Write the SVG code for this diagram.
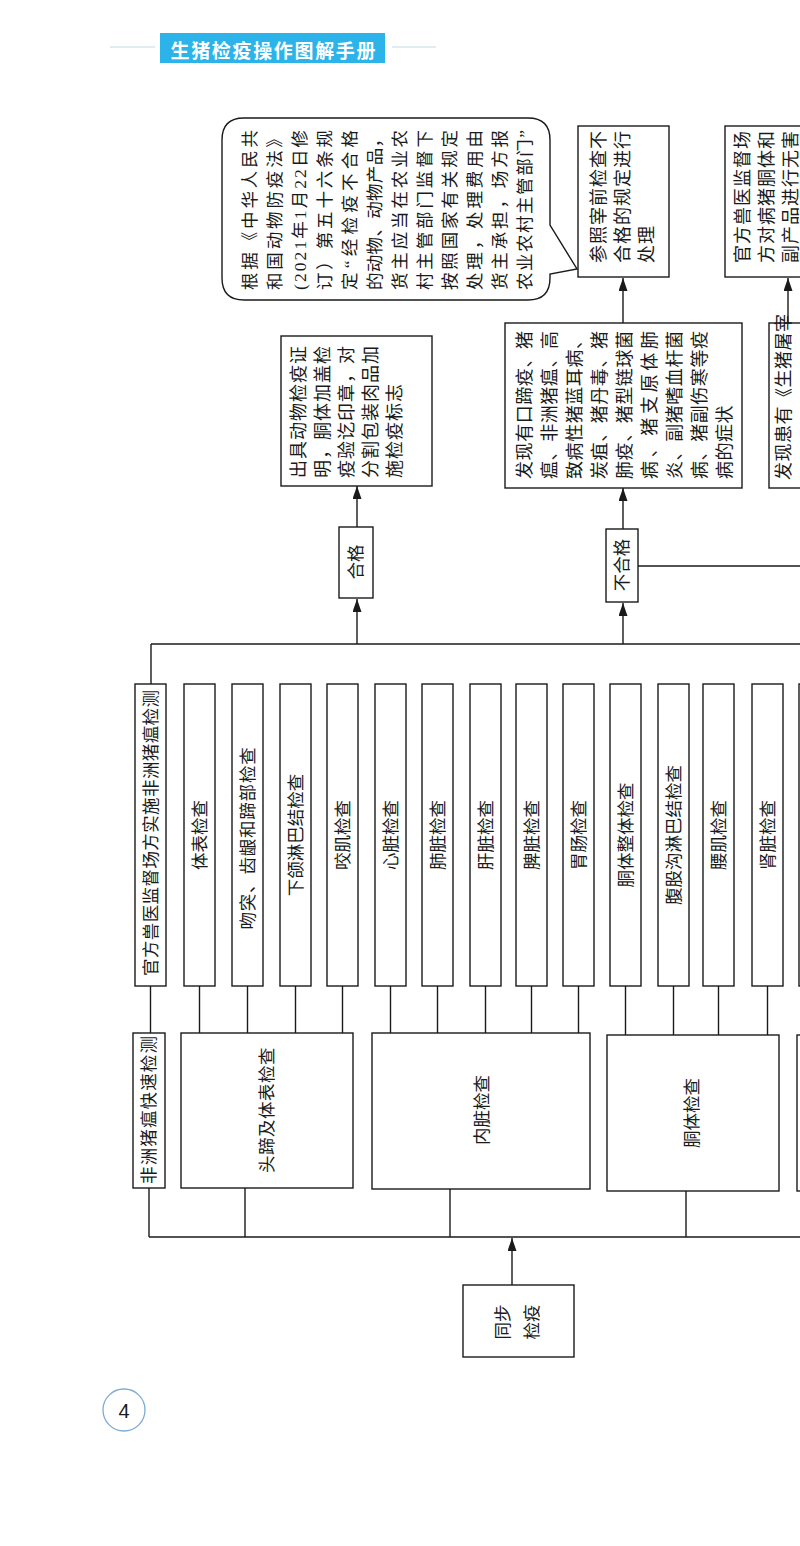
<svg xmlns="http://www.w3.org/2000/svg" width="800" height="1546" viewBox="0 0 800 1546">
<defs>
<style>
.bx{fill:#fff;stroke:#1a1a1a;stroke-width:1.4}
.ln{fill:none;stroke:#1a1a1a;stroke-width:1.4}
.v{font-family:"Liberation Serif","Noto Sans CJK SC",serif;font-size:17.5px;fill:#1a1a1a;dominant-baseline:central}
.m{text-anchor:middle}
.p{font-size:18px;letter-spacing:1px}
.b{font-size:18px}
</style>
<marker id="ah" viewBox="0 0 13 9" refX="13" refY="4.5" markerWidth="13" markerHeight="9" markerUnits="userSpaceOnUse" orient="auto">
<path d="M0,0 L13,4.5 L0,9 Z" fill="#1a1a1a"/>
</marker>
</defs>
<rect width="800" height="1546" fill="#fff"/>

<g id="header">
<line x1="110" y1="47" x2="155" y2="47" stroke="#d4e6f0" stroke-width="1.5"/>
<line x1="392" y1="47" x2="436" y2="47" stroke="#d4e6f0" stroke-width="1.5"/>
<rect x="160" y="33" width="225" height="30" fill="#2bb3ea"/>
<text x="273" y="49" text-anchor="middle" dominant-baseline="central" textLength="205" font-family="Noto Sans CJK SC, sans-serif" font-size="19" font-weight="bold" fill="#fff">生猪检疫操作图解手册</text>
</g>

<g id="connectors">
<line class="ln" x1="151" y1="644" x2="800" y2="644"/>
<line class="ln" x1="151" y1="644" x2="151" y2="684"/>
<line class="ln" x1="357" y1="644" x2="357" y2="599" marker-end="url(#ah)"/>
<line class="ln" x1="357" y1="527" x2="357" y2="486" marker-end="url(#ah)"/>
<line class="ln" x1="623" y1="644" x2="623" y2="603" marker-end="url(#ah)"/>
<line class="ln" x1="623" y1="529" x2="623" y2="488" marker-end="url(#ah)"/>
<line class="ln" x1="623" y1="323" x2="623" y2="278" marker-end="url(#ah)"/>
<line class="ln" x1="638" y1="566" x2="800" y2="566"/>
<line class="ln" x1="788" y1="323" x2="788" y2="278" marker-end="url(#ah)"/>
<g>
<line class="ln" x1="150.5" y1="986" x2="150.5" y2="1033"/>
<line class="ln" x1="199.5" y1="986" x2="199.5" y2="1033"/>
<line class="ln" x1="247.5" y1="986" x2="247.5" y2="1033"/>
<line class="ln" x1="295.5" y1="986" x2="295.5" y2="1033"/>
<line class="ln" x1="342.5" y1="986" x2="342.5" y2="1033"/>
<line class="ln" x1="390.5" y1="986" x2="390.5" y2="1033"/>
<line class="ln" x1="437.5" y1="986" x2="437.5" y2="1033"/>
<line class="ln" x1="485.5" y1="986" x2="485.5" y2="1033"/>
<line class="ln" x1="531.5" y1="986" x2="531.5" y2="1033"/>
<line class="ln" x1="578.5" y1="986" x2="578.5" y2="1033"/>
<line class="ln" x1="625.5" y1="986" x2="625.5" y2="1035"/>
<line class="ln" x1="673.5" y1="986" x2="673.5" y2="1035"/>
<line class="ln" x1="718.5" y1="986" x2="718.5" y2="1035"/>
<line class="ln" x1="767.5" y1="986" x2="767.5" y2="1035"/>
</g>
<line class="ln" x1="149" y1="1188" x2="149" y2="1237"/>
<line class="ln" x1="245" y1="1188" x2="245" y2="1237"/>
<line class="ln" x1="450" y1="1189" x2="450" y2="1237"/>
<line class="ln" x1="686" y1="1191" x2="686" y2="1237"/>
<line class="ln" x1="149" y1="1237" x2="800" y2="1237"/>
<line class="ln" x1="512" y1="1285" x2="512" y2="1238" marker-end="url(#ah)"/>
</g>

<g id="bubble">
<path class="bx" d="M244,118 H528 Q550,118 550,140 V225 L577,269 L550,274 V278 Q550,300 528,300 H244 Q222,300 222,278 V140 Q222,118 244,118 Z"/>
<g class="v" font-size="18">
<text transform="translate(250,290) rotate(-90)" textLength="160" lengthAdjust="spacing">根据《中华人民共</text>
<text transform="translate(275,290) rotate(-90)" textLength="160" lengthAdjust="spacing">和国动物防疫法》</text>
<text transform="translate(300,290) rotate(-90)" textLength="160" lengthAdjust="spacing">(2021年1月22日修</text>
<text transform="translate(325,290) rotate(-90)" textLength="160" lengthAdjust="spacing">订）第五十六条规</text>
<text transform="translate(350,290) rotate(-90)" textLength="160" lengthAdjust="spacing">定“经检疫不合格</text>
<text transform="translate(375,290) rotate(-90)" textLength="160" lengthAdjust="spacing">的动物、动物产品，</text>
<text transform="translate(400,290) rotate(-90)" textLength="160" lengthAdjust="spacing">货主应当在农业农</text>
<text transform="translate(425,290) rotate(-90)" textLength="160" lengthAdjust="spacing">村主管部门监督下</text>
<text transform="translate(450,290) rotate(-90)" textLength="160" lengthAdjust="spacing">按照国家有关规定</text>
<text transform="translate(475,290) rotate(-90)" textLength="160" lengthAdjust="spacing">处理，处理费用由</text>
<text transform="translate(500,290) rotate(-90)" textLength="160" lengthAdjust="spacing">货主承担，场方报</text>
<text transform="translate(525,290) rotate(-90)" textLength="160" lengthAdjust="spacing">农业农村主管部门”</text>
</g>
</g>

<g id="n-refer">
<rect class="bx" x="578" y="126" width="91" height="151"/>
<text class="v p" transform="translate(599,263) rotate(-90)">参照宰前检查不</text>
<text class="v p" transform="translate(623,263) rotate(-90)">合格的规定进行</text>
<text class="v p" transform="translate(647,263) rotate(-90)">处理</text>
</g>

<g id="n-official-harmless">
<rect class="bx" x="725" y="126" width="100" height="151"/>
<text class="v p" transform="translate(743,263) rotate(-90)">官方兽医监督场</text>
<text class="v p" transform="translate(767,263) rotate(-90)">方对病猪胴体和</text>
<text class="v p" transform="translate(791,263) rotate(-90)">副产品进行无害</text>
</g>

<g id="n-cert">
<rect class="bx" x="281" y="336" width="151" height="150"/>
<text class="v p" transform="translate(299,478) rotate(-90)">出具动物检疫证</text>
<text class="v p" transform="translate(323,478) rotate(-90)">明，胴体加盖检</text>
<text class="v p" transform="translate(347,478) rotate(-90)">疫验讫印章，对</text>
<text class="v p" transform="translate(371,478) rotate(-90)">分割包装肉品加</text>
<text class="v p" transform="translate(395,478) rotate(-90)">施检疫标志</text>
</g>

<g id="n-symptoms">
<rect class="bx" x="505" y="323" width="237" height="165"/>
<g class="v b">
<text transform="translate(525,479) rotate(-90)" textLength="148" lengthAdjust="spacing">发现有口蹄疫、猪</text>
<text transform="translate(550,479) rotate(-90)" textLength="148" lengthAdjust="spacing">瘟、非洲猪瘟、高</text>
<text transform="translate(575,479) rotate(-90)" textLength="148" lengthAdjust="spacing">致病性猪蓝耳病、</text>
<text transform="translate(600,479) rotate(-90)" textLength="148" lengthAdjust="spacing">炭疽、猪丹毒、猪</text>
<text transform="translate(625,479) rotate(-90)" textLength="148" lengthAdjust="spacing">肺疫、猪型链球菌</text>
<text transform="translate(650,479) rotate(-90)" textLength="148" lengthAdjust="spacing">病、猪支原体肺</text>
<text transform="translate(675,479) rotate(-90)" textLength="148" lengthAdjust="spacing">炎、副猪嗜血杆菌</text>
<text transform="translate(700,479) rotate(-90)" textLength="148" lengthAdjust="spacing">病、猪副伤寒等疫</text>
<text transform="translate(725,479) rotate(-90)" letter-spacing="0.5">病的症状</text>
</g>
</g>

<g id="n-found">
<rect class="bx" x="769" y="323" width="60" height="165"/>
<text class="v b" transform="translate(784,480) rotate(-90)" letter-spacing="0.5">发现患有《生猪屠宰</text>
</g>

<g id="n-pass">
<rect class="bx" x="339" y="527" width="34" height="71"/>
<text class="v m" transform="translate(356,562) rotate(-90)">合格</text>
</g>

<g id="n-fail">
<rect class="bx" x="606" y="529" width="32" height="73"/>
<text class="v m" transform="translate(622,565) rotate(-90)">不合格</text>
</g>

<g id="n-asf-official"><rect class="bx" x="135" y="684" width="31" height="302"/><text class="v m" transform="translate(150.5,833) rotate(-90)" textLength="286" lengthAdjust="spacing">官方兽医监督场方实施非洲猪瘟检测</text></g>
<g id="n-surface"><rect class="bx" x="184" y="684" width="31" height="302"/><text class="v m" transform="translate(199.5,835) rotate(-90)">体表检查</text></g>
<g id="n-snout"><rect class="bx" x="232" y="684" width="31" height="302"/><text class="v m" transform="translate(247.5,838) rotate(-90)" letter-spacing="0.8">吻突、齿龈和蹄部检查</text></g>
<g id="n-mandibular"><rect class="bx" x="280" y="684" width="31" height="302"/><text class="v m" transform="translate(295.5,835) rotate(-90)">下颌淋巴结检查</text></g>
<g id="n-masseter"><rect class="bx" x="327" y="684" width="31" height="302"/><text class="v m" transform="translate(342.5,835) rotate(-90)">咬肌检查</text></g>
<g id="n-heart"><rect class="bx" x="375" y="684" width="31" height="302"/><text class="v m" transform="translate(390.5,835) rotate(-90)">心脏检查</text></g>
<g id="n-lung"><rect class="bx" x="422" y="684" width="31" height="302"/><text class="v m" transform="translate(437.5,835) rotate(-90)">肺脏检查</text></g>
<g id="n-liver"><rect class="bx" x="470" y="684" width="31" height="302"/><text class="v m" transform="translate(485.5,835) rotate(-90)">肝脏检查</text></g>
<g id="n-spleen"><rect class="bx" x="516" y="684" width="31" height="302"/><text class="v m" transform="translate(531.5,835) rotate(-90)">脾脏检查</text></g>
<g id="n-gut"><rect class="bx" x="563" y="684" width="31" height="302"/><text class="v m" transform="translate(578.5,835) rotate(-90)">胃肠检查</text></g>
<g id="n-carcass-whole"><rect class="bx" x="610" y="684" width="31" height="302"/><text class="v m" transform="translate(625.5,835) rotate(-90)">胴体整体检查</text></g>
<g id="n-inguinal"><rect class="bx" x="658" y="684" width="31" height="302"/><text class="v m" transform="translate(673.5,835) rotate(-90)">腹股沟淋巴结检查</text></g>
<g id="n-psoas"><rect class="bx" x="703" y="684" width="31" height="302"/><text class="v m" transform="translate(718.5,835) rotate(-90)">腰肌检查</text></g>
<g id="n-kidney"><rect class="bx" x="752" y="684" width="31" height="302"/><text class="v m" transform="translate(767.5,835) rotate(-90)">肾脏检查</text></g>
<g id="n-next-tall"><rect class="bx" x="799" y="684" width="31" height="302"/></g>

<g id="n-asf-rapid"><rect class="bx" x="133" y="1033" width="32" height="155"/><text class="v m" transform="translate(149,1110) rotate(-90)" textLength="148" lengthAdjust="spacing">非洲猪瘟快速检测</text></g>
<g id="n-head"><rect class="bx" x="181" y="1033" width="172" height="155"/><text class="v m" transform="translate(267,1110) rotate(-90)" letter-spacing="0.5">头蹄及体表检查</text></g>
<g id="n-viscera"><rect class="bx" x="372" y="1033" width="218" height="156"/><text class="v m" transform="translate(482,1110) rotate(-90)">内脏检查</text></g>
<g id="n-carcass"><rect class="bx" x="607" y="1035" width="172" height="156"/><text class="v m" transform="translate(692,1113) rotate(-90)">胴体检查</text></g>
<g id="n-next-group"><rect class="bx" x="797" y="1035" width="60" height="156"/></g>

<g id="n-sync">
<rect class="bx" x="463" y="1285" width="111" height="72"/>
<text class="v m" transform="translate(503,1322) rotate(-90)">同步</text>
<text class="v m" transform="translate(532,1322) rotate(-90)">检疫</text>
</g>

<g id="page-number">
<circle cx="124" cy="1410" r="21" fill="#fff" stroke="#7aaad6" stroke-width="1.3"/>
<text x="124" y="1411" text-anchor="middle" dominant-baseline="central" font-family="Liberation Sans, sans-serif" font-size="20" fill="#1a1a1a">4</text>
</g>
</svg>
